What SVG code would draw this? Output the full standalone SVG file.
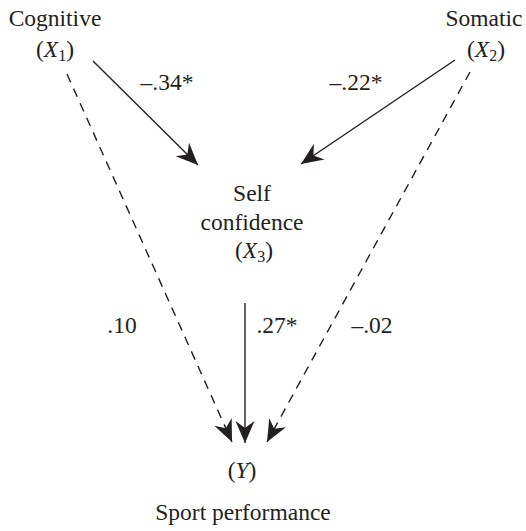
<svg xmlns="http://www.w3.org/2000/svg" width="526" height="531" viewBox="0 0 526 531">
<style>
text{font-family:"Liberation Serif","Times New Roman",serif;font-size:23.5px;fill:#231f20;text-anchor:middle}
.i{font-style:italic}
.s{font-size:16px}
.ln{stroke:#231f20;stroke-width:1.4;fill:none}
.d{stroke-dasharray:9,7}
</style>
<defs>
<marker id="ah" viewBox="-23 -11 24 22" refX="0" refY="0" markerWidth="24" markerHeight="22" markerUnits="userSpaceOnUse" orient="auto">
<path d="M0,0 L-22,-9.5 L-15,0 L-22,9.5 Z" fill="#231f20"/>
</marker>
</defs>
<rect width="526" height="531" fill="#fff"/>
<g id="connectors">
<line class="ln" x1="93" y1="61" x2="198" y2="165" marker-end="url(#ah)"/>
<line class="ln" x1="455" y1="60" x2="301" y2="164" marker-end="url(#ah)"/>
<line class="ln" x1="245" y1="303" x2="245" y2="443" marker-end="url(#ah)"/>
<line class="ln d" x1="67" y1="74" x2="232" y2="442" marker-end="url(#ah)"/>
<line class="ln d" x1="470" y1="72" x2="267" y2="442" marker-end="url(#ah)"/>
<text x="167" y="90">–.34*</text>
<text x="356" y="90">–.22*</text>
<text x="122" y="333">.10</text>
<text x="277" y="333">.27*</text>
<text x="372" y="333">–.02</text>
</g>
<g id="cognitive">
<text x="55" y="26">Cognitive</text>
<text x="55" y="57">(<tspan class="i">X</tspan><tspan class="s" dy="4">1</tspan><tspan dy="-4">)</tspan></text>
</g>
<g id="somatic">
<text x="484" y="26">Somatic</text>
<text x="486" y="57">(<tspan class="i">X</tspan><tspan class="s" dy="4">2</tspan><tspan dy="-4">)</tspan></text>
</g>
<g id="selfconfidence">
<text x="252" y="201">Self</text>
<text x="252" y="230">confidence</text>
<text x="254" y="258">(<tspan class="i">X</tspan><tspan class="s" dy="4">3</tspan><tspan dy="-4">)</tspan></text>
</g>
<g id="performance">
<text x="242" y="478">(<tspan class="i">Y</tspan>)</text>
<text x="243" y="520">Sport performance</text>
</g>
</svg>
